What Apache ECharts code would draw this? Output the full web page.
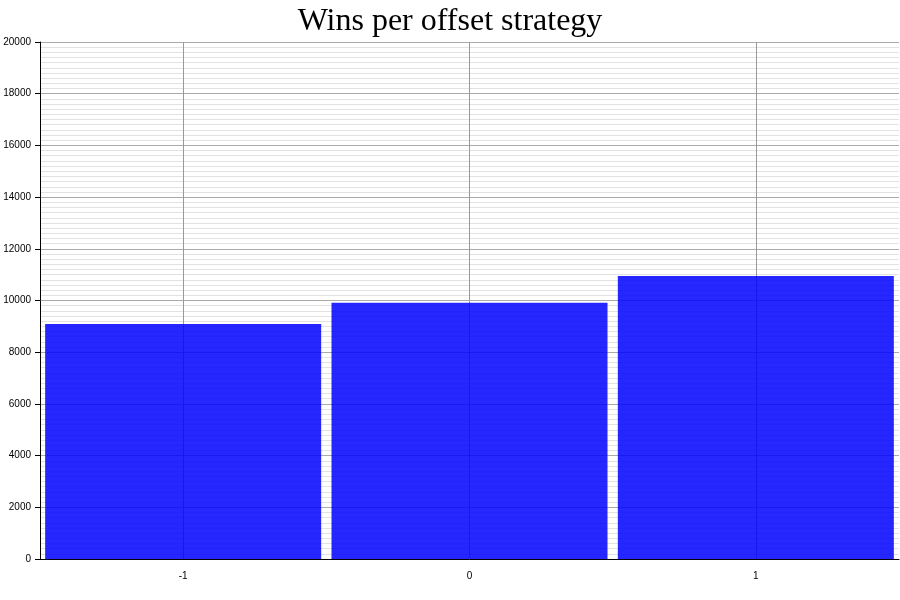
<!DOCTYPE html>
<html>
<head>
  <meta charset="utf-8">
  <script src="https://cdn.jsdelivr.net/npm/echarts@6/dist/echarts.min.js"></script>
  <title>Wins per offset strategy</title>
  <style>
    html, body { margin: 0; padding: 0; background: #fff; }
    #chart { width: 900px; height: 600px; }
  </style>
</head>
<body>
  <div id="chart"></div>
  <script>
    // data
    const offsets = ["-1", "0", "1"];
    const wins = [9090, 9910, 10950];

    const chart = echarts.init(document.getElementById("chart"));

    const option = {
      animation: false,
      title: {
        text: "Wins per offset strategy",
        left: "center",
        top: 1,
        textStyle: {
          fontFamily: "Liberation Serif",
          fontWeight: "normal",
          fontSize: 32,
          color: "#000",
        },
      },
      grid: { left: 40, right: 1, top: 42, bottom: 41 },
      xAxis: {
        type: "category",
        data: offsets,
        axisLine: { lineStyle: { color: "#000", width: 1 } },
        axisTick: { alignWithLabel: true, length: 5, lineStyle: { color: "#000" } },
        axisLabel: { fontFamily: "Liberation Sans", fontSize: 10, color: "#000", margin: 12 },
        splitLine: { show: true, alignWithLabel: true, lineStyle: { color: "#999", width: 1 } },
      },
      yAxis: {
        type: "value",
        min: 0,
        max: 20000,
        interval: 2000,
        axisLine: { show: true, lineStyle: { color: "#000", width: 1 } },
        axisTick: { show: true, length: 5, lineStyle: { color: "#000" } },
        axisLabel: {
          fontFamily: "Liberation Sans",
          fontSize: 10,
          color: "#000",
          margin: 9,
          formatter: (v) => String(v),
        },
        splitLine: { show: true, lineStyle: { color: "#aaa", width: 1 } },
        minorTick: { show: false, splitNumber: 10 },
        minorSplitLine: { show: true, lineStyle: { color: "#e2e2e2", width: 1 } },
      },
      series: [
        {
          name: "Wins",
          type: "bar",
          data: wins,
          barCategoryGap: "3.6%",
          itemStyle: { color: "#0000ff", opacity: 0.85 },
        },
      ],
    };

    chart.setOption(option);
  </script>
</body>
</html>
